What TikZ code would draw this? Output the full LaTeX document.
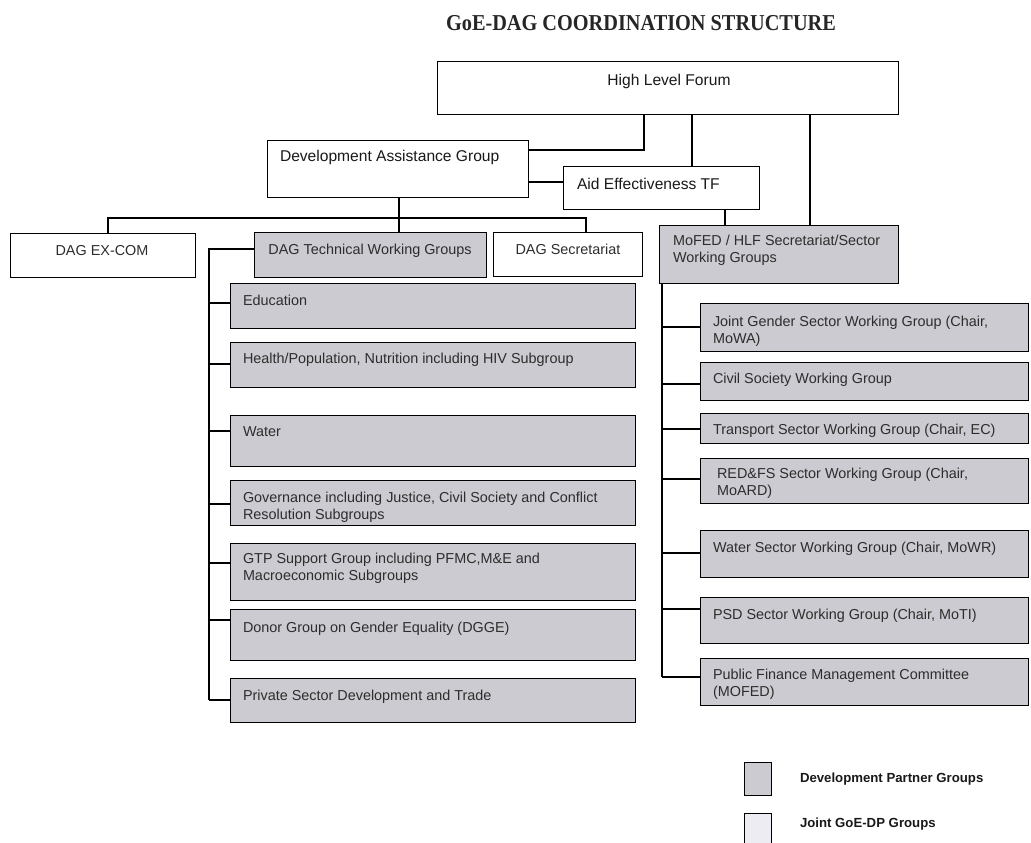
\documentclass[tikz,border=0pt]{standalone}
\usepackage{graphicx}
\usepackage{fontspec}
\setmainfont{Liberation Sans}
\newfontfamily\titlefont{Liberation Serif}
\usetikzlibrary{calc}
\definecolor{boxgray}{RGB}{203,203,209}
\definecolor{legpale}{RGB}{236,236,242}
\definecolor{inkc}{RGB}{45,45,45}
\newcommand\mkbox[6]{\node[#2, minimum width={#5-#3}, minimum height={#6-#4}] (#1) at (#3,#4) {};}
\begin{document}
\begin{tikzpicture}[x=1pt,y=-1pt,
  box/.style={draw=black, line width=1pt, inner sep=0pt, outer sep=0pt, anchor=north west},
  wbox/.style={box, fill=white},
  gbox/.style={box, fill=boxgray},
  pbox/.style={box, fill=legpale},
  txt/.style={inner sep=0pt, outer sep=0pt, align=left, text=inkc, font=\fontsize{14.4}{17}\selectfont},
  bigtxt/.style={txt, text=black!90, font=\fontsize{15.6}{18}\selectfont},
  legtxt/.style={txt, text=black!90, font=\bfseries\fontsize{13.2}{16}\selectfont},
  conn/.style={draw=black, line width=1.1pt}]
\useasboundingbox[fill=white] (0,0) rectangle (1031,843);

% title
\node[inner sep=0pt, text=black!85, font=\titlefont\bfseries\fontsize{20.3}{24}\selectfont] (title) at (641,23) {\scalebox{1}[1.12]{GoE-DAG COORDINATION STRUCTURE}};

% top level boxes
\mkbox{hlf}{wbox}{437}{62}{898}{114}
\mkbox{dag}{wbox}{267}{140}{528}{197}
\mkbox{aid}{wbox}{563}{166}{759}{209}
\mkbox{excom}{wbox}{10}{233}{195}{277}
\mkbox{twg}{gbox}{254}{232}{486}{277}
\mkbox{sec}{wbox}{493}{232}{642}{276}
\mkbox{mofed}{gbox}{659}{225}{898}{283}

\node[bigtxt, anchor=center] (t-hlf) at (669,81) {High Level Forum};
\node[bigtxt, anchor=west] (t-dag) at (280,157) {Development Assistance Group};
\node[bigtxt, anchor=west] (t-aid) at (577,184) {Aid Effectiveness TF};
\node[txt, anchor=center] (t-excom) at (102,251) {DAG EX-COM};
\node[txt, anchor=center] (t-twg) at (370,251) {DAG Technical Working Groups};
\node[txt, anchor=center] (t-sec) at (568,249) {DAG Secretariat};
\node[txt, anchor=north west] (t-mofed) at (673,235) {MoFED / HLF Secretariat/Sector\\Working Groups};

% left column
\mkbox{edu}{gbox}{230}{283}{635}{328}
\mkbox{health}{gbox}{230}{342}{635}{387}
\mkbox{water}{gbox}{230}{415}{635}{466}
\mkbox{gov}{gbox}{230}{480}{635}{525}
\mkbox{gtp}{gbox}{230}{543}{635}{600}
\mkbox{dgge}{gbox}{230}{609}{635}{660}
\mkbox{psdt}{gbox}{230}{678}{635}{722}

\node[txt, anchor=north west] (t-edu) at (243,295) {Education};
\node[txt, anchor=north west] (t-health) at (243,353) {Health/Population, Nutrition including HIV Subgroup};
\node[txt, anchor=north west] (t-water) at (243,427) {Water};
\node[txt, anchor=north west] (t-gov) at (243,492) {Governance including Justice, Civil Society and Conflict\\Resolution Subgroups};
\node[txt, anchor=north west] (t-gtp) at (243,553) {GTP Support Group including PFMC,M\&E and\\Macroeconomic Subgroups};
\node[txt, anchor=north west] (t-dgge) at (243,622) {Donor Group on Gender Equality (DGGE)};
\node[txt, anchor=north west] (t-psdt) at (243,690) {Private Sector Development and Trade};

% right column
\mkbox{jg}{gbox}{700}{303}{1028}{351}
\mkbox{cs}{gbox}{700}{362}{1028}{400}
\mkbox{tr}{gbox}{700}{413}{1028}{443}
\mkbox{red}{gbox}{700}{458}{1028}{503}
\mkbox{ws}{gbox}{700}{530}{1028}{577}
\mkbox{psd}{gbox}{700}{597}{1028}{643}
\mkbox{pfm}{gbox}{700}{658}{1028}{705}

\node[txt, anchor=north west] (t-jg) at (713,316) {Joint Gender Sector Working Group (Chair,\\MoWA)};
\node[txt, anchor=north west] (t-cs) at (713,373) {Civil Society Working Group};
\node[txt, anchor=north west] (t-tr) at (713,424) {Transport Sector Working Group (Chair, EC)};
\node[txt, anchor=north west] (t-red) at (717,468) {RED\&FS Sector Working Group (Chair,\\MoARD)};
\node[txt, anchor=north west] (t-ws) at (713,542) {Water Sector Working Group (Chair, MoWR)};
\node[txt, anchor=north west] (t-psd) at (713,609) {PSD Sector Working Group (Chair, MoTI)};
\node[txt, anchor=north west] (t-pfm) at (713,669) {Public Finance Management Committee\\(MOFED)};

% legend
\mkbox{lg1}{gbox}{744}{762}{771}{795}
\mkbox{lg2}{pbox}{744}{813}{771}{848}
\node[legtxt, anchor=west] (t-lg1) at (800,779) {Development Partner Groups};
\node[legtxt, anchor=west] (t-lg2) at (800,824) {Joint GoE-DP Groups};

% connectors at the top
\coordinate (j1) at (644,150);
\coordinate (j2) at (692,0);
\coordinate (j3) at (810,0);
\coordinate (j4) at (0,182);
\coordinate (j5) at (725,0);
\coordinate (j6) at (399,0);
\coordinate (busl) at (108,218);
\coordinate (busr) at (586,218);
\draw[conn] (hlf.south -| j1) |- (dag.east |- j1);
\draw[conn] (hlf.south -| j2) -- (aid.north -| j2);
\draw[conn] (hlf.south -| j3) -- (mofed.north -| j3);
\draw[conn] (dag.east |- j4) -- (aid.west |- j4);
\draw[conn] (aid.south -| j5) -- (mofed.north -| j5);
\draw[conn] (dag.south -| j6) -- (twg.north -| j6);
\draw[conn] (excom.north -| busl) -- (busl) -- (busr) -- (sec.north -| busr);

% left bracket
\coordinate (bl) at (209,249);
\draw[conn] (twg.west |- bl) -- (bl) -- ($(psdt.north west)+(-21,22)$);
\foreach \n/\d in {edu/20,health/22,water/16,gov/24,gtp/20,dgge/11,psdt/22}
  \draw[conn] ($(\n.north west)+(0,\d)$) -- ++(-21,0);

% right bracket
\draw[conn] ([xshift=3pt]mofed.south west) -- ($(pfm.north west)+(-38,19)$);
\foreach \n/\d in {jg/24,cs/22,tr/16,red/21,ws/23,psd/12,pfm/19}
  \draw[conn] ($(\n.north west)+(0,\d)$) -- ++(-38,0);
\end{tikzpicture}
\end{document}
